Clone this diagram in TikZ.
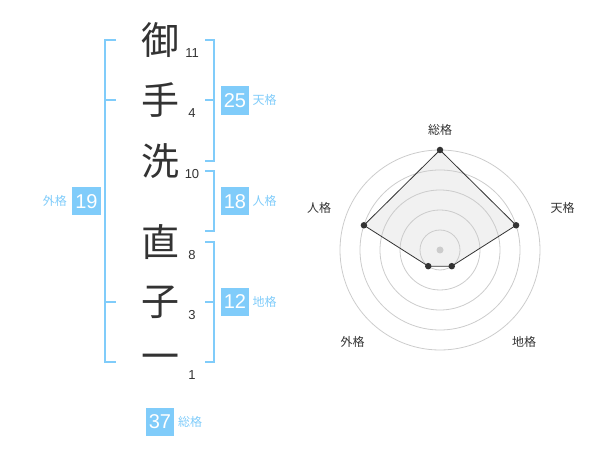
\documentclass[tikz,border=0pt]{standalone}
\usepackage{fontspec}
\setmainfont{Liberation Sans}
\newfontfamily\cjk{Noto Sans CJK JP}
\usetikzlibrary{chains,positioning,calc}
\definecolor{kaku}{RGB}{128,204,250}
\definecolor{ink}{RGB}{51,51,51}
\definecolor{ringgray}{RGB}{204,204,204}
\definecolor{polyfill}{RGB}{241,241,241}

\begin{document}
\begin{tikzpicture}[x=1pt,y=-1pt]
\tikzstyle{ch}=[minimum height=60pt,inner sep=0pt,text=ink,font=\cjk\fontsize{38}{38}\selectfont]
\tikzstyle{gap}=[minimum height=20pt,inner sep=0pt]
\tikzstyle{num}=[node distance=13pt,inner sep=0pt,text=ink,font=\fontsize{13}{13}\selectfont]
\tikzstyle{bracket}=[draw=kaku,line width=2pt]
\tikzstyle{box}=[fill=kaku,text=white,minimum size=28.5pt,inner sep=0pt,font=\fontsize{20}{20}\selectfont]
\tikzstyle{lab}=[inner sep=0pt,text=kaku,font=\cjk\fontsize{12}{12}\selectfont]
\tikzstyle{ring}=[draw=ringgray,line width=0.8pt]
\tikzstyle{dot}=[circle,fill=ink,inner sep=0pt,minimum size=6.5pt]
\tikzstyle{axis}=[inner sep=0pt,text=ink,font=\cjk\fontsize{12}{12}\selectfont]
\useasboundingbox (0,0) rectangle (600,470);

% name, one character per chain link
\begin{scope}[start chain=1 going below,node distance=0mm]
    \node [on chain=1,ch] (c1) at (160,40) {御};
    \node [on chain=1,ch] (c2) {手};
    \node [on chain=1,ch] (c3) {洗};
    \node [on chain=1,gap] (g1) {};
    \node [on chain=1,ch] (c4) {直};
    \node [on chain=1,ch] (c5) {子};
    \node [on chain=1,ch] (c6) {一};
    \node [num,below of=c1,xshift=32pt] (n1) {11};
    \node [num,below of=c2,xshift=32pt] (n2) {4};
    \node [num,below of=c3,xshift=32pt] (n3) {10};
    \node [num,below of=c4,xshift=32pt] (n4) {8};
    \node [num,below of=c5,xshift=32pt] (n5) {3};
    \node [num,below of=c6,xshift=32pt] (n6) {1};
\end{scope}

% brackets
\coordinate (lx) at (105,0);
\coordinate (lt) at (116,0);
\coordinate (rx) at (214.3,0);
\coordinate (rt) at (205,0);
\coordinate (j0) at ($(c3)!0.5!(c4)$);
\coordinate (j1) at ($(c3)!0.125!(c4)$);
\coordinate (j2) at ($(c3)!0.875!(c4)$);
\draw[bracket] (c1 -| lt) -- (c1 -| lx) -- (c6 -| lx) -- (c6 -| lt);
\draw[bracket] (c2 -| lx) -- (c2 -| lt);
\draw[bracket] (c5 -| lx) -- (c5 -| lt);
\draw[bracket] (c1 -| rt) -- (c1 -| rx) -- (c3 -| rx) -- (c3 -| rt);
\draw[bracket] (c2 -| rx) -- (c2 -| rt);
\draw[bracket] (j1 -| rt) -- (j1 -| rx) -- (j2 -| rx) -- (j2 -| rt);
\draw[bracket] (c4 -| rt) -- (c4 -| rx) -- (c6 -| rx) -- (c6 -| rt);
\draw[bracket] (c5 -| rx) -- (c5 -| rt);

% totals
\coordinate (bx) at (235,0);
\coordinate (lb) at (86.5,0);
\node [box] (b25) at (c2 -| bx) {25};
\node [box] (b18) at (j0 -| bx) {18};
\node [box] (b12) at (c5 -| bx) {12};
\node [box] (b19) at (j0 -| lb) {19};
\node [box,below=15pt of c6] (b37) {37};
\node [lab,right=3pt of b25] (t25) {天格};
\node [lab,right=3pt of b18] (t18) {人格};
\node [lab,right=3pt of b12] (t12) {地格};
\node [lab,left=5pt of b19] (t19) {外格};
\node [lab,right=3.5pt of b37] (t37) {総格};

% radar
\begin{scope}[shift={(440,250)},y=1pt]
    \coordinate (rc) at (0,0);
    \coordinate (s1) at (90:100);
    \coordinate (s2) at (18:80);
    \coordinate (s3) at (-54:20);
    \coordinate (s4) at (234:20);
    \coordinate (s5) at (162:80);
    \fill[polyfill] (s1) -- (s2) -- (s3) -- (s4) -- (s5) -- cycle;
    \foreach \r in {20,40,...,100}
        \draw[ring] (rc) circle[radius=\r pt];
    \draw[ink,line width=0.8pt] (s1) -- (s2) -- (s3) -- (s4) -- (s5) -- cycle;
    \node [circle,fill=ringgray,inner sep=0pt,minimum size=7pt] (o) at (rc) {};
    \foreach \i in {1,...,5}
        \node [dot] (d\i) at (s\i) {};
    \node [axis] (a1) at (0,120) {総格};
    \node [axis] (a2) at (122.5,41.7) {天格};
    \node [axis] (a3) at (84.2,-91.7) {地格};
    \node [axis] (a4) at (-87.5,-91.7) {外格};
    \node [axis] (a5) at (-120.8,41.7) {人格};
\end{scope}

\end{tikzpicture}
\end{document}
